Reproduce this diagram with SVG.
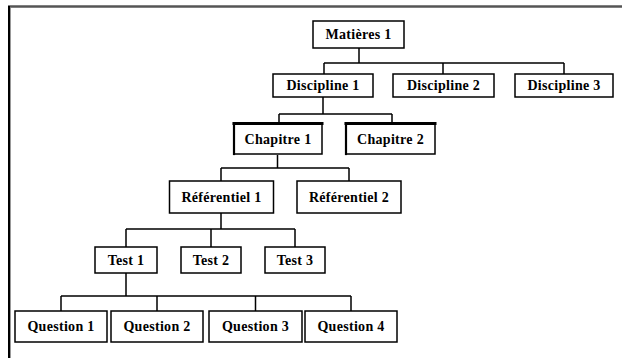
<svg xmlns="http://www.w3.org/2000/svg" width="622" height="358" viewBox="0 0 622 358">
<style>
.box{fill:#fff;stroke:#000;stroke-width:1.5}
.edge{fill:none;stroke:#000;stroke-linecap:square}
.lbl{font-family:"Liberation Serif","Times New Roman",serif;font-size:14px;font-weight:bold;text-anchor:middle;fill:#000;letter-spacing:0.3px}
.conn{fill:none;stroke:#000;stroke-width:1.5}
</style>
<rect width="622" height="358" fill="#fff"/>
<g id="frame">
<line x1="8" y1="6.5" x2="622" y2="6.5" stroke="#555" stroke-width="2.5"/>
<line x1="9" y1="6" x2="9" y2="358" stroke="#000" stroke-width="2"/>
<line x1="10.5" y1="8" x2="10.5" y2="358" stroke="#999" stroke-width="1"/>
</g>
<g id="connectors">
<path class="conn" d="M359 48V63M324 63H564M324 63V74M443 63V74M564 63V74"/>
<path class="conn" d="M323 97V114M279 114H392M279 114V123M392 114V123"/>
<path class="conn" d="M277.5 155V168M221 168H349M221 168V181M349 168V181"/>
<path class="conn" d="M221 213V229M126 229H295M126 229V247M211 229V247M295 229V247"/>
<path class="conn" d="M126 273V296M61 296H351M61 296V311M157 296V311M255.5 296V311M351 296V311"/>
</g>
<g id="n-matieres1"><rect class="box" x="313" y="21" width="91" height="27"/><text class="lbl" x="358.5" y="39">Matières 1</text></g>
<g id="n-discipline1"><rect class="box" x="273" y="74" width="100" height="23"/><text class="lbl" x="323" y="90">Discipline 1</text></g>
<g id="n-discipline2"><rect class="box" x="393" y="74" width="101" height="23"/><text class="lbl" x="443.5" y="90">Discipline 2</text></g>
<g id="n-discipline3"><rect class="box" x="515" y="74" width="98" height="23"/><text class="lbl" x="564" y="90">Discipline 3</text></g>
<g id="n-chapitre1"><rect class="box" x="234" y="123.5" width="88" height="30.5"/><path class="edge" stroke-width="3" d="M234 123.5H322"/><path class="edge" stroke-width="2.2" d="M234 123.5V154"/><text class="lbl" x="278" y="143.5">Chapitre 1</text></g>
<g id="n-chapitre2"><rect class="box" x="346" y="123.5" width="89" height="30.5"/><path class="edge" stroke-width="3" d="M346 123.5H435"/><path class="edge" stroke-width="2.2" d="M346 123.5V154"/><text class="lbl" x="390.5" y="143.5">Chapitre 2</text></g>
<g id="n-referentiel1"><rect class="box" x="169.5" y="181" width="104" height="32"/><text class="lbl" x="221.5" y="202">Référentiel 1</text></g>
<g id="n-referentiel2"><rect class="box" x="297" y="181" width="104" height="32"/><text class="lbl" x="349" y="202">Référentiel 2</text></g>
<g id="n-test1"><rect class="box" x="95" y="247" width="62" height="26"/><text class="lbl" x="126" y="265">Test 1</text></g>
<g id="n-test2"><rect class="box" x="181" y="247" width="60" height="26"/><text class="lbl" x="211" y="265">Test 2</text></g>
<g id="n-test3"><rect class="box" x="265" y="247" width="60" height="26"/><text class="lbl" x="295" y="265">Test 3</text></g>
<g id="n-question1"><rect class="box" x="15" y="311" width="92" height="31"/><text class="lbl" x="61" y="331">Question 1</text></g>
<g id="n-question2"><rect class="box" x="111" y="311" width="92" height="31"/><text class="lbl" x="157" y="331">Question 2</text></g>
<g id="n-question3"><rect class="box" x="209" y="311" width="93" height="31"/><text class="lbl" x="255.5" y="331">Question 3</text></g>
<g id="n-question4"><rect class="box" x="305" y="311" width="92" height="31"/><text class="lbl" x="351" y="331">Question 4</text></g>
</svg>
